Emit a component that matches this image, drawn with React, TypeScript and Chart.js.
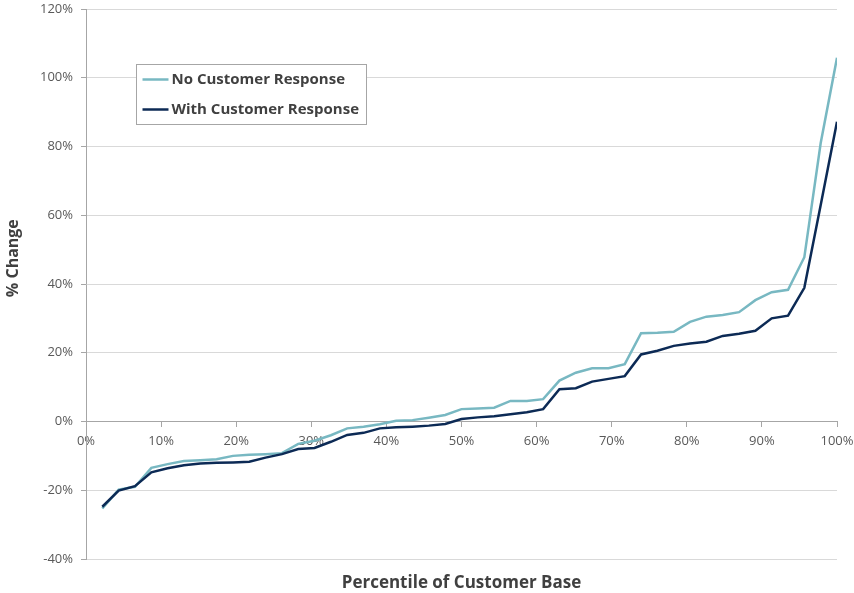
import { useEffect, useRef } from "react";
import { Chart, registerables } from "chart.js";

Chart.register(...registerables);

// Percentile of customer base (x, %)
const percentiles = [
  2.17, 4.35, 6.52, 8.7, 10.87, 13.04, 15.22, 17.39, 19.57, 21.74, 23.91, 26.09,
  28.26, 30.43, 32.61, 34.78, 36.96, 39.13, 41.3, 43.48, 45.65, 47.83, 50.0,
  52.17, 54.35, 56.52, 58.7, 60.87, 63.04, 65.22, 67.39, 69.57, 71.74, 73.91,
  76.09, 78.26, 80.43, 82.61, 84.78, 86.96, 89.13, 91.3, 93.48, 95.65, 97.83, 100,
];

// % change, no customer response
const noResponse = [
  -25.3, -19.8, -19.0, -13.5, -12.4, -11.5, -11.3, -11.0, -10.0, -9.7, -9.5, -9.2,
  -6.5, -5.6, -4.0, -2.0, -1.5, -0.8, 0.2, 0.4, 1.1, 1.9, 3.6, 3.8, 4.0, 6.0, 6.0,
  6.5, 11.9, 14.2, 15.5, 15.5, 16.7, 25.7, 25.8, 26.1, 29.0, 30.5, 31.0, 31.8,
  35.3, 37.6, 38.3, 47.8, 81.0, 105.8,
];

// % change, with customer response
const withResponse = [
  -24.8, -20.1, -18.8, -14.8, -13.6, -12.7, -12.2, -12.0, -11.9, -11.7, -10.5,
  -9.5, -8.0, -7.7, -5.9, -3.9, -3.3, -2.0, -1.7, -1.5, -1.2, -0.7, 0.7, 1.2, 1.5,
  2.1, 2.7, 3.6, 9.4, 9.7, 11.6, 12.4, 13.2, 19.5, 20.6, 22.0, 22.7, 23.2, 24.9,
  25.5, 26.4, 30.0, 30.8, 38.9, 63.0, 87.2,
];

const yTickValues = [-40, -20, 0, 20, 40, 60, 80, 100, 120];
const xTickValues = [0, 10, 20, 30, 40, 50, 60, 70, 80, 90, 100];
const seriesNames = ["No Customer Response", "With Customer Response"];
const seriesColors = ["#78B8C2", "#0C2A55"];
const yTitle = "% Change";
const xTitle = "Percentile of Customer Base";

const FONT = "'Open Sans', 'DejaVu Sans', sans-serif";
const TEXT = "#404040";
const TICK_TEXT = "#595959";
const AXIS = "#a6a6a6";
const GRID = "#d9d9d9";

const overlayPlugin = {
  id: "overlay",
  afterDraw(chart: any) {
    const ctx: CanvasRenderingContext2D = chart.ctx;
    const area = chart.chartArea;
    // y-axis title
    ctx.save();
    ctx.font = `bold 16px ${FONT}`;
    ctx.fillStyle = TEXT;
    ctx.textAlign = "center";
    ctx.textBaseline = "middle";
    ctx.translate(13, area.top + (area.bottom - area.top) * 0.453);
    ctx.rotate(-Math.PI / 2);
    ctx.fillText(yTitle, 0, 0);
    ctx.restore();

    // x-axis title
    ctx.save();
    ctx.font = `bold 17px ${FONT}`;
    ctx.fillStyle = TEXT;
    ctx.textAlign = "center";
    ctx.textBaseline = "middle";
    ctx.fillText(xTitle, (area.left + area.right) / 2, area.bottom + 24);
    ctx.restore();

    // legend box
    const bx = area.left + 50.5;
    const by = area.top + 55.5;
    const bw = 230;
    const bh = 60;
    ctx.save();
    ctx.fillStyle = "#ffffff";
    ctx.fillRect(bx, by, bw, bh);
    ctx.strokeStyle = AXIS;
    ctx.lineWidth = 1;
    ctx.strokeRect(bx, by, bw, bh);
    ctx.font = `bold 15px ${FONT}`;
    ctx.textBaseline = "middle";
    ctx.textAlign = "left";
    chart.data.datasets.forEach((ds: any, i: number) => {
      const cy = by + 15 + i * 30;
      ctx.strokeStyle = ds.borderColor;
      ctx.lineWidth = 2.5;
      ctx.beginPath();
      ctx.moveTo(bx + 6, cy);
      ctx.lineTo(bx + 32, cy);
      ctx.stroke();
      ctx.fillStyle = TEXT;
      ctx.fillText(ds.label, bx + 35, cy);
    });
    ctx.restore();
  },
};

const zeroPadding = (scale: any) => {
  scale.paddingTop = 0;
  scale.paddingBottom = 0;
  scale.paddingLeft = 0;
  scale.paddingRight = 0;
};

export default function App() {
  const canvasRef = useRef<HTMLCanvasElement | null>(null);

  useEffect(() => {
    if (!canvasRef.current) return;
    const chart = new Chart(canvasRef.current, {
      type: "line",
      data: {
        datasets: [
          {
            label: seriesNames[0],
            data: percentiles.map((x, i) => ({ x, y: noResponse[i] })),
            borderColor: seriesColors[0],
            backgroundColor: seriesColors[0],
            borderWidth: 2.5,
            pointRadius: 0,
            tension: 0,
            order: 1,
          },
          {
            label: seriesNames[1],
            data: percentiles.map((x, i) => ({ x, y: withResponse[i] })),
            borderColor: seriesColors[1],
            backgroundColor: seriesColors[1],
            borderWidth: 2.5,
            pointRadius: 0,
            tension: 0,
            order: 0,
          },
        ],
      },
      options: {
        animation: false,
        responsive: true,
        maintainAspectRatio: false,
        layout: { padding: { left: 0, right: 17, top: 9, bottom: 34 } },
        plugins: {
          legend: { display: false },
          tooltip: { enabled: false },
          title: { display: false },
        },
        scales: {
          x: {
            type: "linear",
            position: { y: 0 } as any,
            min: 0,
            max: 100,
            afterBuildTicks: (scale: any) => {
              scale.ticks = xTickValues.map((v) => ({ value: v }));
            },
            afterFit: zeroPadding,
            ticks: {
              callback: (v: any) => `${v}%`,
              color: TICK_TEXT,
              font: { family: FONT, size: 13 },
              padding: 7,
              maxRotation: 0,
              autoSkip: false,
            },
            grid: {
              drawOnChartArea: false,
              drawTicks: true,
              tickLength: 5,
              tickColor: AXIS,
            },
            border: { color: AXIS, width: 1 },
          },
          y: {
            type: "linear",
            min: -40,
            max: 120,
            afterBuildTicks: (scale: any) => {
              scale.ticks = yTickValues.map((v) => ({ value: v }));
            },
            afterFit: (scale: any) => {
              scale.width = 86;
              zeroPadding(scale);
            },
            ticks: {
              callback: (v: any) => `${v}%`,
              color: TICK_TEXT,
              font: { family: FONT, size: 13 },
              padding: 8,
            },
            grid: {
              color: GRID,
              lineWidth: 1,
              drawTicks: true,
              tickLength: 5,
              tickColor: AXIS,
            },
            border: { color: AXIS, width: 1 },
          },
        },
      },
      plugins: [overlayPlugin],
    });
    return () => chart.destroy();
  }, []);

  return (
    <div
      style={{
        position: "fixed",
        left: 0,
        top: 0,
        width: 854,
        height: 593,
        background: "#ffffff",
      }}
    >
      <canvas ref={canvasRef} />
    </div>
  );
}
